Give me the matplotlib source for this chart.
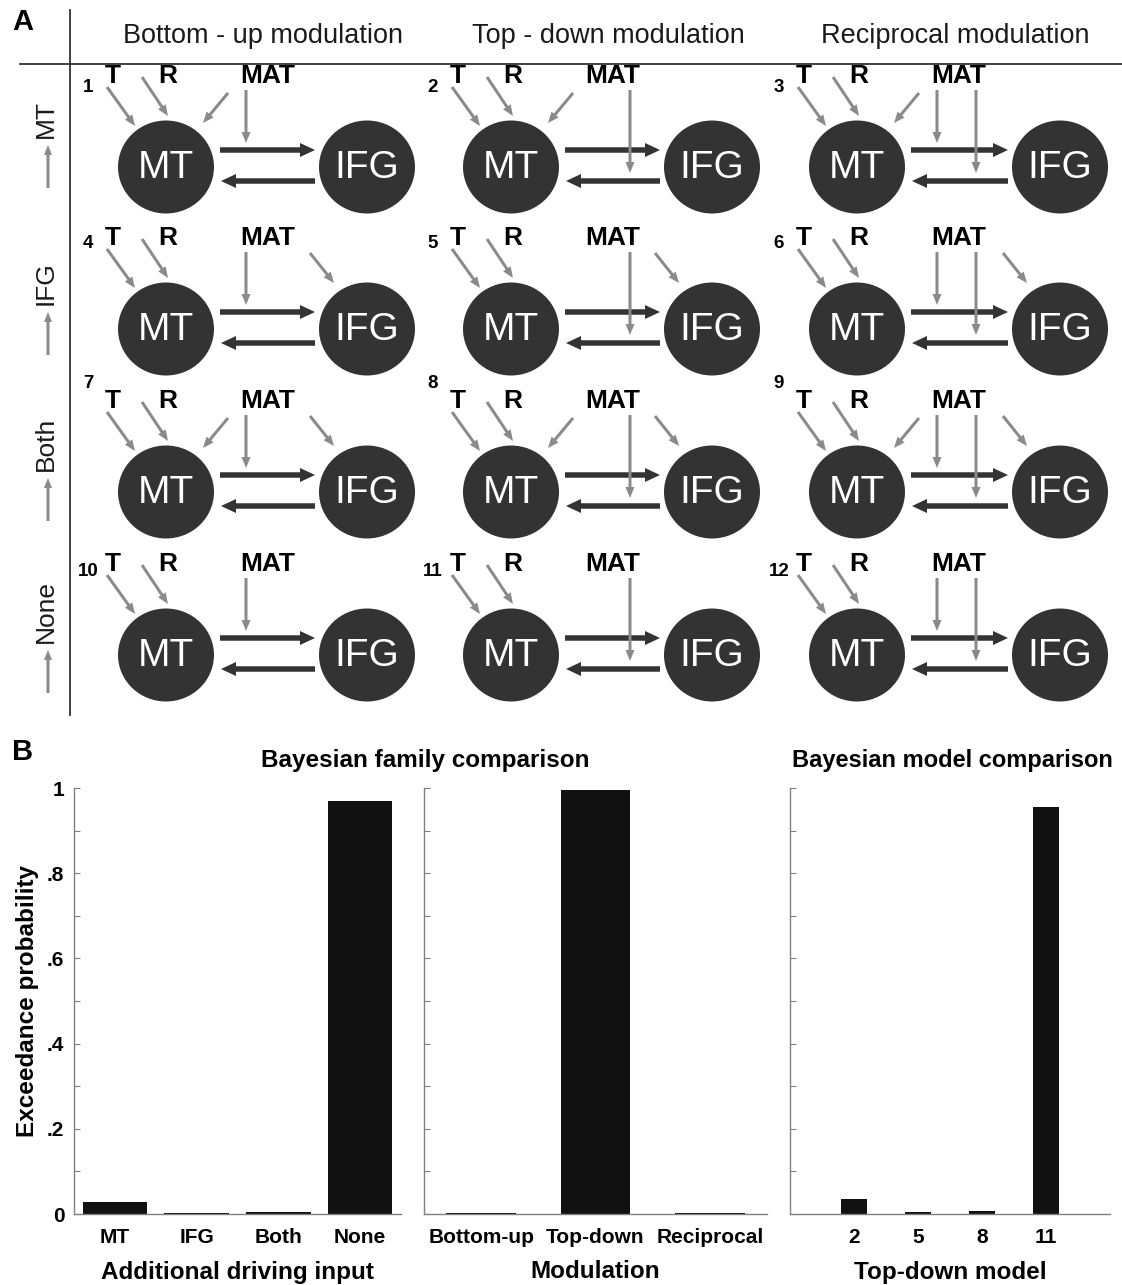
import matplotlib
matplotlib.use('Agg')
import matplotlib.pyplot as plt
from matplotlib.patches import Ellipse, FancyArrow
import numpy as np

plt.rcParams['font.family'] = ['Liberation Sans', 'DejaVu Sans']

# ---- panel B data (exceedance probabilities) ----
input_names = ['MT', 'IFG', 'Both', 'None']
input_ep = [0.027, 0.003, 0.004, 0.970]
mod_names = ['Bottom-up', 'Top-down', 'Reciprocal']
mod_ep = [0.003, 0.995, 0.002]
model_names = ['2', '5', '8', '11']
model_ep = [0.035, 0.004, 0.006, 0.955]

# ---- panel A model space ----
col_titles = ['Bottom - up modulation', 'Top - down modulation', 'Reciprocal modulation']
col_mod = [['fwd'], ['bwd'], ['fwd', 'bwd']]
row_titles = ['MT', 'IFG', 'Both', 'None']
row_input = [['MT'], ['IFG'], ['MT', 'IFG'], []]

W, H = 1122, 1285
DARK = '#333333'
GRAY = '#8a8a8a'

fig = plt.figure(figsize=(W / 100, H / 100), dpi=100)

# panel A drawn in pixel coordinates
axa = fig.add_axes([0, 0, 1, 1])
axa.set_xlim(0, W)
axa.set_ylim(H, 0)
axa.axis('off')

mt_x = [166, 511, 857]
ifg_x = [367, 712, 1060]
row_y = [167, 329, 492, 655]
num_dy = [-80, -86, -109, -84]
tip_dy = [-22, -17, -14, -5]


def arrow(x0, y0, x1, y1, color, w, hw, hl):
    axa.add_patch(FancyArrow(x0, y0, x1 - x0, y1 - y0, width=w, head_width=hw,
                             head_length=hl, length_includes_head=True,
                             color=color, lw=0))


axa.plot([70, 70], [10, 715], color=DARK, lw=1.3)
axa.plot([20, W], [64, 64], color=DARK, lw=1.3)
axa.text(12, 22, 'A', fontsize=21, fontweight='bold', ha='left', va='center')
axa.text(12, 752, 'B', fontsize=21, fontweight='bold', ha='left', va='center')

for j, title in enumerate(col_titles):
    axa.text((mt_x[j] + ifg_x[j]) / 2 - 3, 36, title, fontsize=19.5,
             ha='center', va='center', color='#1a1a1a')

for i, rname in enumerate(row_titles):
    cy = row_y[i]
    tip = cy + tip_dy[i]
    arrow(48, tip + 43, 48, tip, GRAY, 3, 8, 10)
    axa.text(46, tip - 7, rname, fontsize=19, rotation=90,
             ha='center', va='bottom', color='#1a1a1a')

    for j in range(3):
        mx, ix = mt_x[j], ifg_x[j]
        for cx, lab in [(mx, 'MT'), (ix, 'IFG')]:
            axa.add_patch(Ellipse((cx, cy), 96, 93, color=DARK, lw=0))
            axa.text(cx, cy + 1, lab, color='white', fontsize=28,
                     ha='center', va='center')
        # forward / backward connections
        arrow(mx + 54, cy - 17, ix - 52, cy - 17, DARK, 5.5, 14, 15)
        arrow(ix - 52, cy + 14, mx + 55, cy + 14, DARK, 5.5, 14, 15)

        axa.text(mx - 78, cy + num_dy[i], str(i * 3 + j + 1), fontsize=13.5,
                 fontweight='bold', ha='center', va='center')
        axa.text(mx - 53, cy - 91, 'T', fontsize=19, fontweight='bold',
                 ha='center', va='center')
        axa.text(mx + 2, cy - 91, 'R', fontsize=19, fontweight='bold',
                 ha='center', va='center')
        axa.text(mx + 102, cy - 91, 'MAT', fontsize=19, fontweight='bold',
                 ha='center', va='center')

        arrow(mx - 59, cy - 80, mx - 31, cy - 41, GRAY, 3, 9, 11)
        arrow(mx - 24, cy - 90, mx + 2, cy - 51, GRAY, 3, 9, 11)
        if 'MT' in row_input[i]:
            arrow(mx + 62, cy - 74, mx + 37, cy - 44, GRAY, 3, 9, 11)
        if 'IFG' in row_input[i]:
            arrow(ix - 57, cy - 76, ix - 33, cy - 46, GRAY, 3, 9, 11)
        if 'fwd' in col_mod[j]:
            arrow(mx + 80, cy - 77, mx + 80, cy - 24, GRAY, 3, 9, 11)
        if 'bwd' in col_mod[j]:
            arrow(mx + 119, cy - 77, mx + 119, cy + 6, GRAY, 3, 9, 11)


# ---- panel B ----
def px_rect(l, r, t, b):
    return [l / W, 1 - b / H, (r - l) / W, (b - t) / H]


def bar_panel(rect, names, vals, xlim, width, ylabels):
    ax = fig.add_axes(rect)
    x = np.arange(1, len(names) + 1)
    ax.bar(x, vals, width=width, color='#111111')
    ax.set_xlim(*xlim)
    ax.set_ylim(0, 1)
    ax.set_xticks(x)
    ax.set_xticklabels(names, fontweight='bold', fontsize=15)
    ax.set_yticks(np.arange(0, 1.01, 0.1))
    if ylabels:
        ax.set_yticklabels(['0', '', '.2', '', '.4', '', '.6', '', '.8', '', '1'],
                           fontweight='bold', fontsize=15)
    else:
        ax.set_yticklabels([])
    for s in ['top', 'right']:
        ax.spines[s].set_visible(False)
    for s in ['left', 'bottom']:
        ax.spines[s].set_color('#808080')
        ax.spines[s].set_linewidth(1.0)
    ax.tick_params(axis='y', direction='in', length=4, color='#808080', pad=7)
    ax.tick_params(axis='x', length=0, pad=10)
    return ax


ax1 = bar_panel(px_rect(74, 401, 788, 1214), input_names, input_ep, (0.5, 4.5), 0.79, True)
ax2 = bar_panel(px_rect(424, 767, 788, 1214), mod_names, mod_ep, (0.5, 3.5), 0.61, False)
ax3 = bar_panel(px_rect(790, 1110, 788, 1214), model_names, model_ep, (0, 5), 0.4, False)

ax1.set_ylabel('Exceedance probability', fontsize=17.5, fontweight='bold', labelpad=6)

fig.text(425 / W, 1 - 760 / H, 'Bayesian family comparison', fontsize=17.5,
         fontweight='bold', ha='center', va='center')
fig.text(952 / W, 1 - 760 / H, 'Bayesian model comparison', fontsize=17,
         fontweight='bold', ha='center', va='center')

for ax, lab in [(ax1, 'Additional driving input'), (ax2, 'Modulation'),
                (ax3, 'Top-down model')]:
    pos = ax.get_position()
    fig.text(pos.x0 + pos.width / 2, 1 - 1272 / H, lab, fontsize=17.5,
             fontweight='bold', ha='center', va='center')

fig.savefig('out.png', dpi=100)
